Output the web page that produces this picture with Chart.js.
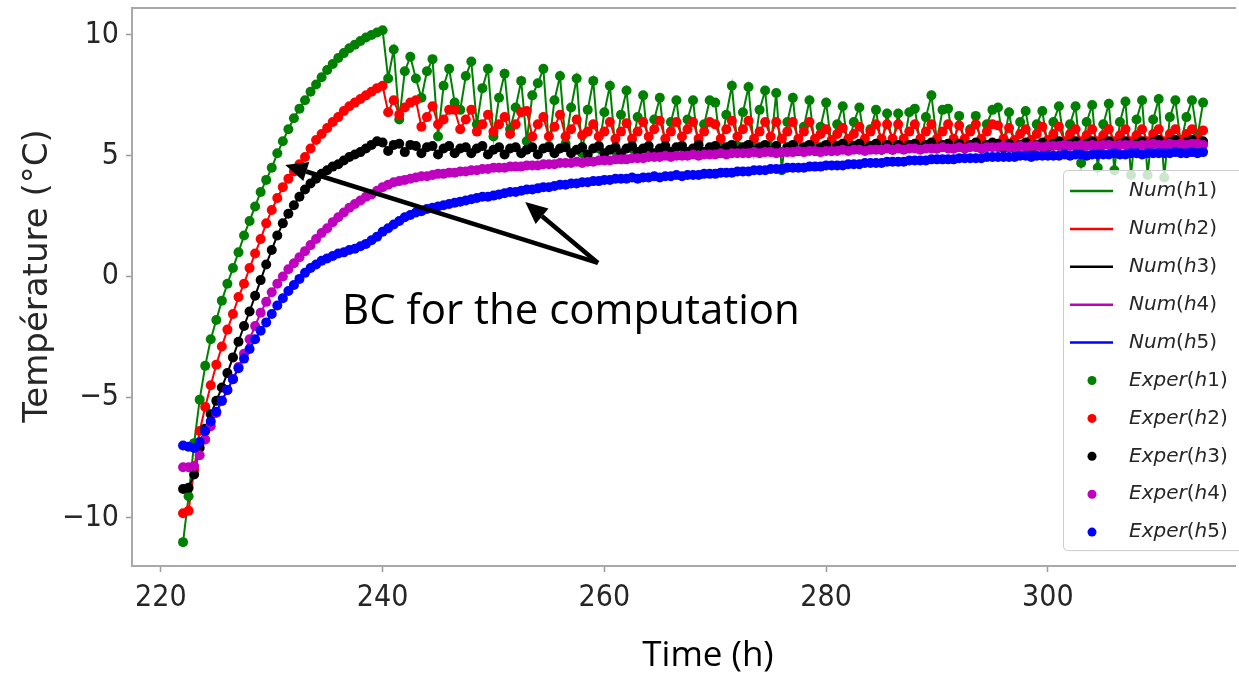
<!DOCTYPE html>
<html>
<head>
<meta charset="utf-8">
<script src="https://cdn.jsdelivr.net/npm/chart.js@4.4.1/dist/chart.umd.min.js"></script>
<style>
  html, body { margin: 0; padding: 0; background: #fff; overflow: hidden; }
  #wrap { position: relative; width: 1239px; height: 677px; }
</style>
</head>
<body>
<div id="wrap"><canvas id="chart" width="1239" height="677"></canvas></div>
<script>
// sampling times (h)
const times = [
  222, 222.5, 223, 223.5, 224, 224.5, 225, 225.5, 226, 226.5,
  227, 227.5, 228, 228.5, 229, 229.5, 230, 230.5, 231, 231.5,
  232, 232.5, 233, 233.5, 234, 234.5, 235, 235.5, 236, 236.5,
  237, 237.5, 238, 238.5, 239, 239.5, 240, 240.5, 241, 241.5,
  242, 242.5, 243, 243.5, 244, 244.5, 245, 245.5, 246, 246.5,
  247, 247.5, 248, 248.5, 249, 249.5, 250, 250.5, 251, 251.5,
  252, 252.5, 253, 253.5, 254, 254.5, 255, 255.5, 256, 256.5,
  257, 257.5, 258, 258.5, 259, 259.5, 260, 260.5, 261, 261.5,
  262, 262.5, 263, 263.5, 264, 264.5, 265, 265.5, 266, 266.5,
  267, 267.5, 268, 268.5, 269, 269.5, 270, 270.5, 271, 271.5,
  272, 272.5, 273, 273.5, 274, 274.5, 275, 275.5, 276, 276.5,
  277, 277.5, 278, 278.5, 279, 279.5, 280, 280.5, 281, 281.5,
  282, 282.5, 283, 283.5, 284, 284.5, 285, 285.5, 286, 286.5,
  287, 287.5, 288, 288.5, 289, 289.5, 290, 290.5, 291, 291.5,
  292, 292.5, 293, 293.5, 294, 294.5, 295, 295.5, 296, 296.5,
  297, 297.5, 298, 298.5, 299, 299.5, 300, 300.5, 301, 301.5,
  302, 302.5, 303, 303.5, 304, 304.5, 305, 305.5, 306, 306.5,
  307, 307.5, 308, 308.5, 309, 309.5, 310, 310.5, 311, 311.5,
  312, 312.5, 313, 313.5, 314
];

// temperature at each height (°C)
const h1 = [
  -11.0, -9.1, -6.9, -5.1, -3.7, -2.6, -1.8, -1.0, -0.3, 0.35,
  1.0, 1.7, 2.3, 2.9, 3.5, 4.0, 4.5, 5.1, 5.6, 6.1,
  6.55, 6.95, 7.3, 7.65, 7.95, 8.25, 8.55, 8.8, 9.05, 9.25,
  9.45, 9.6, 9.75, 9.9, 10.0, 10.1, 10.2, 8.2, 9.4, 6.5,
  8.5, 9.1, 8.2, 7.4, 8.5, 9.0, 5.8, 7.9, 8.6, 7.2,
  6.9, 8.3, 8.9, 6.3, 7.8, 8.6, 5.8, 7.4, 8.4, 6.1,
  7.0, 8.1, 5.6, 7.5, 8.0, 8.6, 5.4, 7.3, 8.3, 5.5,
  7.0, 8.2, 5.1, 6.9, 8.1, 5.3, 6.8, 7.9, 5.2, 6.7,
  7.7, 5.3, 6.6, 7.5, 5.2, 6.5, 7.4, 5.3, 6.4, 7.3,
  5.4, 6.5, 7.3, 5.2, 6.3, 7.3, 7.2, 5.3, 6.7, 7.9,
  5.4, 6.8, 7.85, 5.2, 6.9, 7.7, 5.3, 7.6, 4.4, 6.4,
  7.4, 5.2, 6.2, 7.3, 5.3, 6.2, 7.2, 5.4, 6.3, 7.05,
  5.3, 6.4, 7.0, 5.5, 6.1, 6.9, 5.4, 6.75, 5.5, 6.75,
  5.4, 6.8, 6.95, 5.5, 6.6, 7.5, 5.6, 6.9, 6.95, 5.4,
  6.65, 5.5, 6.1, 6.65, 5.4, 6.3, 6.9, 7.0, 5.5, 6.8,
  5.4, 6.4, 6.85, 5.5, 6.3, 6.85, 5.4, 6.4, 7.05, 5.5,
  6.3, 7.05, 4.7, 6.4, 7.1, 4.5, 6.3, 7.15, 4.4, 6.4,
  7.25, 4.2, 6.5, 7.3, 4.2, 6.5, 7.35, 4.1, 6.6, 7.3,
  5.5, 6.6, 7.3, 5.8, 7.2
];
const h2 = [
  -9.8, -9.7, -8.0, -6.4, -5.4, -4.5, -3.65, -2.9, -2.2, -1.55,
  -0.85, -0.3, 0.35, 0.95, 1.55, 2.2, 2.75, 3.25, 3.7, 4.05,
  4.35, 4.65, 4.95, 5.3, 5.65, 5.9, 6.15, 6.4, 6.6, 6.85,
  7.05, 7.2, 7.35, 7.5, 7.65, 7.8, 7.9, 6.8, 7.3, 6.7,
  7.0, 7.2, 7.3, 6.2, 6.6, 7.05, 6.3, 6.5, 6.9, 6.9,
  6.1, 6.5, 6.9, 6.0, 6.3, 6.7, 6.0, 6.3, 6.6, 5.9,
  6.3, 6.8, 6.85, 5.8, 6.3, 6.6, 5.8, 6.2, 6.7, 5.8,
  6.1, 6.5, 5.85, 6.0, 6.3, 5.8, 6.0, 6.4, 5.7, 6.0,
  6.35, 5.7, 6.0, 6.4, 5.8, 6.1, 6.45, 5.7, 6.0, 6.4,
  5.8, 6.1, 6.4, 5.7, 6.0, 6.4, 6.3, 5.7, 6.1, 6.45,
  5.8, 6.1, 6.45, 5.7, 6.0, 6.4, 5.8, 6.4, 5.7, 6.0,
  6.4, 5.7, 6.0, 6.4, 5.7, 5.9, 6.1, 5.65, 5.9, 6.15,
  5.7, 5.9, 6.2, 5.7, 6.0, 6.3, 5.7, 6.3, 5.7, 6.3,
  5.7, 6.0, 6.3, 5.7, 6.0, 6.3, 5.7, 6.0, 6.3, 5.7,
  6.25, 5.7, 6.0, 6.3, 5.7, 6.0, 6.3, 6.25, 5.7, 6.15,
  5.65, 5.9, 6.1, 5.65, 5.9, 6.2, 5.65, 5.9, 6.2, 5.6,
  5.9, 6.1, 5.6, 5.85, 6.1, 5.6, 5.85, 6.1, 5.6, 5.85,
  6.1, 5.6, 5.85, 6.1, 5.6, 5.9, 6.1, 5.6, 5.9, 6.1,
  5.65, 5.9, 6.1, 5.7, 6.05
];
const h3 = [
  -8.8, -8.75, -8.2, -7.1, -6.3, -5.7, -5.15, -4.6, -4.0, -3.35,
  -2.7, -2.05, -1.45, -0.8, -0.15, 0.5, 1.1, 1.7, 2.2, 2.6,
  2.95, 3.3, 3.6, 3.85, 4.05, 4.25, 4.4, 4.55, 4.65, 4.8,
  4.95, 5.05, 5.15, 5.3, 5.45, 5.6, 5.55, 5.2, 5.45, 5.5,
  5.15, 5.45, 5.4, 5.1, 5.35, 5.4, 5.05, 5.3, 5.4, 5.1,
  5.3, 5.35, 5.1, 5.3, 5.4, 5.05, 5.25, 5.35, 5.05, 5.3,
  5.35, 5.1, 5.25, 5.35, 5.05, 5.3, 5.35, 5.1, 5.3, 5.35,
  5.1, 5.25, 5.35, 5.05, 5.3, 5.4, 5.1, 5.25, 5.35, 5.1,
  5.3, 5.4, 5.15, 5.3, 5.4, 5.1, 5.3, 5.4, 5.15, 5.35,
  5.4, 5.15, 5.3, 5.45, 5.15, 5.35, 5.4, 5.2, 5.35, 5.45,
  5.2, 5.35, 5.45, 5.2, 5.35, 5.45, 5.2, 5.4, 5.15, 5.35,
  5.45, 5.2, 5.35, 5.45, 5.2, 5.35, 5.45, 5.2, 5.4, 5.5,
  5.25, 5.4, 5.5, 5.25, 5.4, 5.5, 5.25, 5.45, 5.25, 5.45,
  5.3, 5.45, 5.5, 5.3, 5.45, 5.55, 5.3, 5.45, 5.5, 5.3,
  5.5, 5.3, 5.45, 5.55, 5.3, 5.45, 5.55, 5.5, 5.3, 5.5,
  5.3, 5.45, 5.55, 5.3, 5.45, 5.55, 5.35, 5.5, 5.6, 5.35,
  5.5, 5.6, 5.35, 5.5, 5.6, 5.35, 5.5, 5.6, 5.35, 5.5,
  5.6, 5.35, 5.5, 5.6, 5.4, 5.55, 5.65, 5.4, 5.55, 5.65,
  5.4, 5.55, 5.65, 5.45, 5.6
];
const h4 = [
  -7.9, -7.9, -7.85, -7.4, -6.75, -6.2, -5.65, -5.15, -4.7, -4.25,
  -3.75, -3.2, -2.6, -2.05, -1.5, -1.05, -0.65, -0.3, 0.0, 0.3,
  0.55, 0.8, 1.05, 1.3, 1.55, 1.8, 2.0, 2.25, 2.45, 2.65,
  2.85, 3.0, 3.15, 3.3, 3.4, 3.55, 3.7, 3.8, 3.9, 3.95,
  4.0, 4.05, 4.1, 4.15, 4.15, 4.2, 4.25, 4.25, 4.3, 4.3,
  4.35, 4.35, 4.4, 4.4, 4.45, 4.45, 4.5, 4.5, 4.5, 4.55,
  4.55, 4.55, 4.6, 4.6, 4.6, 4.65, 4.65, 4.65, 4.7, 4.7,
  4.7, 4.75, 4.7, 4.75, 4.75, 4.8, 4.8, 4.8, 4.85, 4.85,
  4.85, 4.9, 4.9, 4.9, 4.95, 4.95, 4.95, 5.0, 4.95, 5.0,
  5.0, 5.0, 5.05, 5.0, 5.05, 5.05, 5.05, 5.1, 5.05, 5.1,
  5.1, 5.1, 5.1, 5.15, 5.1, 5.15, 5.15, 5.1, 5.15, 5.15,
  5.15, 5.2, 5.15, 5.2, 5.2, 5.15, 5.2, 5.2, 5.2, 5.25,
  5.2, 5.25, 5.25, 5.2, 5.25, 5.25, 5.25, 5.3, 5.25, 5.3,
  5.25, 5.3, 5.3, 5.25, 5.3, 5.3, 5.3, 5.35, 5.3, 5.3,
  5.35, 5.3, 5.35, 5.35, 5.3, 5.35, 5.35, 5.35, 5.4, 5.35,
  5.35, 5.4, 5.35, 5.4, 5.4, 5.35, 5.4, 5.4, 5.4, 5.45,
  5.4, 5.4, 5.45, 5.4, 5.45, 5.4, 5.45, 5.45, 5.4, 5.45,
  5.45, 5.45, 5.4, 5.45, 5.45, 5.5, 5.45, 5.45, 5.5, 5.45,
  5.5, 5.45, 5.5, 5.5, 5.45
];
const h5 = [
  -7.0, -7.05, -7.1, -6.85, -6.4, -6.0, -5.6, -5.15, -4.7, -4.25,
  -3.8, -3.4, -3.0, -2.6, -2.25, -1.9, -1.55, -1.2, -0.9, -0.6,
  -0.35, -0.1, 0.15, 0.35, 0.5, 0.65, 0.75, 0.85, 0.95, 1.0,
  1.1, 1.15, 1.25, 1.35, 1.5, 1.65, 1.85, 2.0, 2.15, 2.3,
  2.45, 2.55, 2.65, 2.7, 2.8, 2.85, 2.9, 2.95, 3.0, 3.05,
  3.1, 3.15, 3.2, 3.25, 3.3, 3.3, 3.35, 3.4, 3.45, 3.5,
  3.5, 3.55, 3.6, 3.6, 3.65, 3.7, 3.7, 3.75, 3.8, 3.8,
  3.85, 3.85, 3.9, 3.9, 3.95, 3.95, 4.0, 4.0, 4.05, 4.05,
  4.05, 4.1, 4.05, 4.1, 4.1, 4.15, 4.1, 4.15, 4.15, 4.2,
  4.15, 4.2, 4.2, 4.2, 4.25, 4.25, 4.25, 4.3, 4.3, 4.3,
  4.35, 4.35, 4.35, 4.4, 4.4, 4.4, 4.45, 4.45, 4.45, 4.5,
  4.5, 4.5, 4.5, 4.55, 4.55, 4.55, 4.6, 4.6, 4.6, 4.6,
  4.65, 4.65, 4.65, 4.7, 4.7, 4.7, 4.7, 4.75, 4.75, 4.75,
  4.75, 4.8, 4.8, 4.8, 4.8, 4.85, 4.85, 4.85, 4.85, 4.85,
  4.9, 4.9, 4.9, 4.9, 4.9, 4.95, 4.95, 4.95, 4.95, 4.95,
  4.95, 5.0, 5.0, 4.95, 5.0, 5.0, 5.0, 5.0, 5.0, 5.05,
  5.0, 5.05, 5.05, 5.0, 5.05, 5.05, 5.05, 5.05, 5.1, 5.05,
  5.05, 5.1, 5.1, 5.05, 5.1, 5.1, 5.1, 5.1, 5.1, 5.15,
  5.1, 5.1, 5.15, 5.1, 5.15
];

const heights = ['h1', 'h2', 'h3', 'h4', 'h5'];
const heightSeries = [h1, h2, h3, h4, h5];
const heightColors = ['#008000', '#ff0000', '#000000', '#bf00bf', '#0000ff'];

const xTicks = [220, 240, 260, 280, 300];
const yTicks = [-10, -5, 0, 5, 10];
const yTickLabels = ['\u221210', '\u22125', '0', '5', '10'];

// arrow start and tips, in data units (time, temperature)
const arrowFrom = [259.42, 0.56];
const arrowTips = [[231.22, 4.62], [252.86, 3.08]];
const noteAt = [236.34, -1.98];

const tickFont = '"DejaVu Sans Condensed", "DejaVu Sans"';

function toPoints(values) {
  return values.map((v, i) => ({ x: times[i], y: v }));
}

// matplotlib order: model lines first, measured dots on top
const datasets = [];
heightSeries.forEach((vals, k) => {
  datasets.push({
    label: 'Num', key: heights[k], kind: 'line',
    data: toPoints(vals),
    borderColor: heightColors[k], borderWidth: 2,
    pointRadius: 0, tension: 0, fill: false
  });
});
heightSeries.forEach((vals, k) => {
  datasets.push({
    label: 'Exper', key: heights[k], kind: 'dot',
    data: toPoints(vals),
    showLine: false,
    pointRadius: 5, pointBorderWidth: 0,
    pointBackgroundColor: heightColors[k], borderColor: heightColors[k]
  });
});
datasets.forEach((d, i) => { d.order = datasets.length - i; });

function drawArrow(ctx, x0, y0, x1, y1) {
  const ang = Math.atan2(y1 - y0, x1 - x0);
  const head = 22, half = 10;
  const bx = x1 - head * Math.cos(ang), by = y1 - head * Math.sin(ang);
  ctx.beginPath();
  ctx.moveTo(x0, y0);
  ctx.lineTo(bx, by);
  ctx.stroke();
  ctx.beginPath();
  ctx.moveTo(x1, y1);
  ctx.lineTo(bx + half * Math.sin(ang), by - half * Math.cos(ang));
  ctx.lineTo(bx - half * Math.sin(ang), by + half * Math.cos(ang));
  ctx.closePath();
  ctx.fill();
}

// label like Num(h1): letters italic, brackets and digits upright
function drawMathLabel(ctx, prefix, key, x, y) {
  const parts = [[prefix, true], ['(', false], [key.charAt(0), true], [key.slice(1), false], [')', false]];
  let cx = x;
  parts.forEach(([txt, it]) => {
    ctx.font = (it ? 'italic ' : '') + '20px "DejaVu Sans"';
    ctx.fillText(txt, cx, y);
    cx += ctx.measureText(txt).width;
  });
}

const decorations = {
  id: 'decorations',
  afterDatasetsDraw(chart) {
    const { ctx, chartArea: a, scales: { x, y } } = chart;
    ctx.save();

    // spines (right one is past the canvas edge)
    ctx.strokeStyle = '#a9a9a9';
    ctx.lineWidth = 2;
    ctx.beginPath();
    ctx.moveTo(a.right + 2, a.top);
    ctx.lineTo(a.left, a.top);
    ctx.lineTo(a.left, a.bottom);
    ctx.lineTo(a.right + 2, a.bottom);
    ctx.stroke();

    // arrows pointing at the boundary-condition curves
    ctx.strokeStyle = '#000';
    ctx.fillStyle = '#000';
    ctx.lineWidth = 4.5;
    ctx.lineCap = 'butt';
    const sx = x.getPixelForValue(arrowFrom[0]), sy = y.getPixelForValue(arrowFrom[1]);
    arrowTips.forEach(([tx, ty]) => {
      drawArrow(ctx, sx, sy, x.getPixelForValue(tx), y.getPixelForValue(ty));
    });

    ctx.font = '42px "Open Sans"';
    ctx.textAlign = 'left';
    ctx.textBaseline = 'alphabetic';
    ctx.fillText('BC for the computation', x.getPixelForValue(noteAt[0]), y.getPixelForValue(noteAt[1]));

    // axis titles
    ctx.font = '35px "Open Sans"';
    ctx.textAlign = 'center';
    ctx.textBaseline = 'middle';
    ctx.fillText('Time (h)', 708, 656);

    ctx.save();
    ctx.translate(38, 276);
    ctx.rotate(-Math.PI / 2);
    ctx.fillStyle = '#262626';
    ctx.font = '34px "DejaVu Sans"';
    ctx.fillText('Température (°C)', 0, 0);
    ctx.restore();

    // legend box
    const lx = 1063, ly = 170, rowH = 37.9, firstRow = 191;
    const lh = firstRow - ly + rowH * 9 + 18;
    ctx.fillStyle = 'rgba(255,255,255,0.8)';
    ctx.strokeStyle = '#cccccc';
    ctx.lineWidth = 1;
    ctx.beginPath();
    ctx.roundRect(lx + 0.5, ly + 0.5, 200, lh, 4);
    ctx.fill();
    ctx.stroke();

    ctx.textAlign = 'left';
    ctx.textBaseline = 'middle';
    chart.data.datasets.forEach((d, i) => {
      const ry = firstRow + rowH * i;
      const col = d.kind === 'line' ? d.borderColor : d.pointBackgroundColor;
      if (d.kind === 'line') {
        ctx.strokeStyle = col;
        ctx.lineWidth = 2.5;
        ctx.beginPath();
        ctx.moveTo(1070, ry);
        ctx.lineTo(1113, ry);
        ctx.stroke();
      } else {
        ctx.fillStyle = col;
        ctx.beginPath();
        ctx.arc(1092, ry, 4.5, 0, Math.PI * 2);
        ctx.fill();
      }
      ctx.fillStyle = '#262626';
      drawMathLabel(ctx, d.label, d.key, 1129, ry);
    });

    ctx.restore();
  }
};

new Chart(document.getElementById('chart'), {
  type: 'line',
  data: { datasets },
  options: {
    responsive: false,
    animation: false,
    devicePixelRatio: 1,
    layout: { padding: { top: 8, right: 0, left: 0, bottom: 0 } },
    plugins: { legend: { display: false }, tooltip: { enabled: false } },
    scales: {
      x: {
        type: 'linear',
        min: 217.396, max: 316.79,
        afterFit: (s) => { s.height = 111; s.paddingLeft = 0; s.paddingRight = 0; },
        afterBuildTicks: (s) => { s.ticks = xTicks.map(v => ({ value: v })); },
        border: { display: false },
        grid: { drawOnChartArea: false, drawTicks: true, tickLength: 6, tickColor: '#9a9a9a', tickWidth: 1.5 },
        ticks: {
          font: { family: tickFont, size: 30 },
          color: '#262626', padding: 8, maxRotation: 0,
          callback: (v) => String(v)
        }
      },
      y: {
        min: -11.988, max: 11.118,
        afterFit: (s) => { s.width = 132; s.paddingTop = 0; s.paddingBottom = 0; },
        afterBuildTicks: (s) => { s.ticks = yTicks.map(v => ({ value: v })); },
        border: { display: false },
        grid: { drawOnChartArea: false, drawTicks: true, tickLength: 6, tickColor: '#9a9a9a', tickWidth: 1.5 },
        ticks: {
          font: { family: tickFont, size: 30 },
          color: '#262626', padding: 7,
          callback: (v) => yTickLabels[yTicks.indexOf(v)]
        }
      }
    }
  },
  plugins: [decorations]
});
</script>
</body>
</html>
